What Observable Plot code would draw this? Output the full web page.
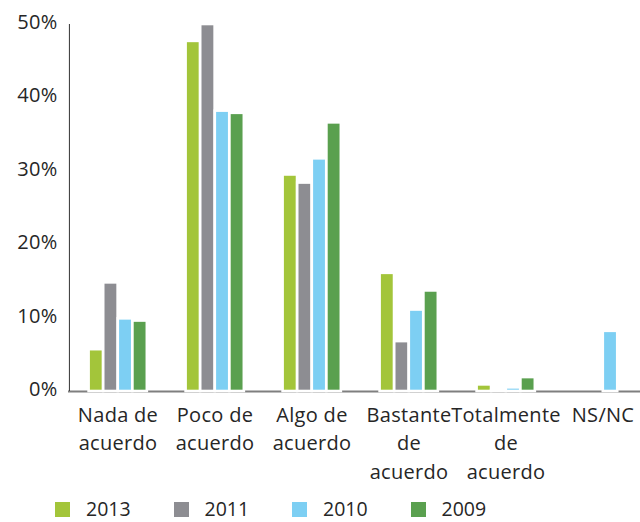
<!DOCTYPE html>
<html>
<head>
<meta charset="utf-8">
<script src="https://cdn.jsdelivr.net/npm/d3@7"></script>
<script src="https://cdn.jsdelivr.net/npm/@observablehq/plot@0.6"></script>
<style>
  html, body { margin: 0; padding: 0; background: #fff; overflow: hidden; }
  body { width: 640px; height: 522px; font-family: "Open Sans", "Noto Sans", sans-serif; color: #262626; }
  #chart svg { display: block; }
  .legend { display: flex; padding-left: 55px; margin-top: 4px; height: 20px; line-height: 20px; align-items: center; font-size: 19.5px; }
  .legend .item { display: flex; align-items: center; width: 118.5px; height: 20px; }
  .legend .sw { width: 15px; height: 15px; margin-right: 16px; flex: none; }
</style>
</head>
<body>
<div id="chart"></div>
<div class="legend" id="legend"></div>
<script>
const categories = ["Nada de acuerdo", "Poco de acuerdo", "Algo de acuerdo", "Bastante de acuerdo", "Totalmente de acuerdo", "NS/NC"];
const categoryLabels = ["Nada de\nacuerdo", "Poco de\nacuerdo", "Algo de\nacuerdo", "Bastante\nde\nacuerdo", "Totalmente\nde\nacuerdo", "NS/NC"];
const series = ["2013", "2011", "2010", "2009"];
const colors = ["#a3c53a", "#8d8d92", "#7dcff3", "#5aa04f"];
const v2013 = [5.7, 47.7, 29.5, 16.1, 0.9, 0];
const v2011 = [14.8, 50.0, 28.4, 6.8, 0.1, 0];
const v2010 = [9.9, 38.2, 31.7, 11.1, 0.5, 8.2];
const v2009 = [9.6, 37.9, 36.6, 13.7, 1.9, 0];
const yTicks = [0, 10, 20, 30, 40, 50];

const values = [v2013, v2011, v2010, v2009];
const rows = [];
series.forEach((s, i) => categories.forEach((c, j) => rows.push({series: s, category: c, value: values[i][j]})));

const W = 640, H = 495;
const xRange = [68, 651];
const B = (xRange[1] - xRange[0]) / categories.length;
const firstOffset = 20.9, step = 14.6, sw = 2.6;

const barMarks = series.map((s, i) => {
  const left = firstOffset + i * step - sw / 2;
  return Plot.barY(rows.filter(d => d.series === s && d.value > 0), {
    x: "category", y: "value", fill: colors[i], stroke: "white", strokeWidth: sw,
    insetLeft: left, insetRight: B - left - step
  });
});

const chart = Plot.plot({
  width: W,
  height: H,
  marginLeft: 68,
  marginRight: 0,
  marginTop: 24,
  marginBottom: 104,
  style: {fontFamily: "'Open Sans', 'Noto Sans', sans-serif", fontSize: "20px", color: "#262626", background: "white", letterSpacing: "0.3px"},
  x: {domain: categories, range: xRange, padding: 0, axis: null},
  y: {domain: [0, 50], axis: null},
  marks: [
    Plot.ruleY([0], {stroke: "#7f7f7f", strokeWidth: 2}),
    ...barMarks,
    Plot.ruleX([categories[0]], {dx: -B / 2, y1: 0, y2: 50, stroke: "#333", strokeWidth: 1}),
    Plot.axisY({ticks: yTicks, tickSize: 0, tickPadding: 11, tickFormat: d => d + "%", label: null, fontSize: 20, dy: -2, fill: "#262626", style: {letterSpacing: "1.5px"}}),
    Plot.text(categories, {x: d => d, y: () => 0, text: (d, i) => categoryLabels[i], lineAnchor: "top", dy: 10, lineHeight: 1.425, fontSize: 20, fill: "#262626"})
  ]
});
document.getElementById("chart").appendChild(chart);

const legend = document.getElementById("legend");
series.forEach((s, i) => {
  const item = document.createElement("div");
  item.className = "item";
  const sq = document.createElement("span");
  sq.className = "sw";
  sq.style.background = colors[i];
  const tx = document.createElement("span");
  tx.textContent = s;
  item.appendChild(sq);
  item.appendChild(tx);
  legend.appendChild(item);
});
</script>
</body>
</html>
